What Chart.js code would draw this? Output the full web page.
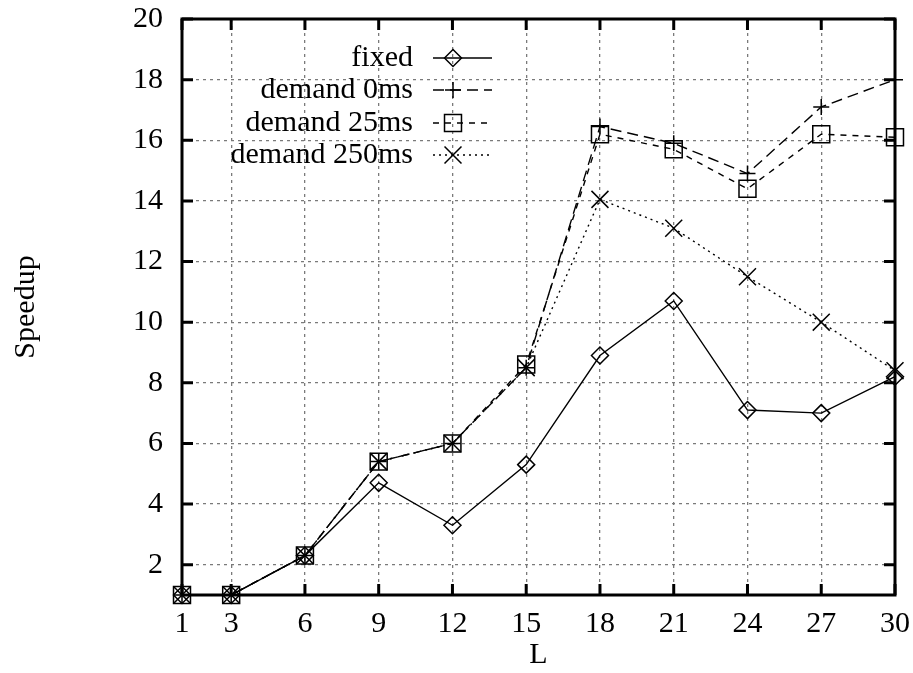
<!DOCTYPE html>
<html>
<head>
<meta charset="utf-8">
<script src="https://cdn.jsdelivr.net/npm/chart.js@4/dist/chart.umd.min.js"></script>
<style>
  html, body { margin: 0; padding: 0; background: #ffffff; }
  #wrap { width: 913px; height: 673px; position: relative; }
</style>
</head>
<body>
<div id="wrap"><canvas id="speedup_chart" width="913" height="673"></canvas></div>
<script>

let L_values = [1, 3, 6, 9, 12, 15, 18, 21, 24, 27, 30];
let y_tick_values = [2, 4, 6, 8, 10, 12, 14, 16, 18, 20];

let fixed_data = [1, 1, 2.3, 4.7, 3.3, 5.3, 8.9, 10.7, 7.1, 7.0, 8.2];
let demand_0_data = [1, 1, 2.3, 5.4, 6.0, 8.5, 16.45, 15.9, 14.9, 17.1, 18.0];
let demand_25_data = [1, 1, 2.3, 5.4, 6.0, 8.6, 16.2, 15.7, 14.4, 16.2, 16.1];
let demand_250_data = [1, 1, 2.3, 5.4, 6.0, 8.5, 14.05, 13.1, 11.5, 10.0, 8.4];

let font_family = "'Liberation Serif', 'DejaVu Serif', serif";
let font_size = 30;

function to_points(values) {
    return values.map(function(v, i) { return { x: L_values[i], y: v }; });
}

// one entry per series: label, values, marker, marker radius, dash
let series = [
    { label: 'fixed',         values: fixed_data,      style: 'rectRot',  radius: 8.5, dash: [] },
    { label: 'demand 0ms',    values: demand_0_data,   style: 'cross',    radius: 8,   dash: [11, 6] },
    { label: 'demand 25ms',   values: demand_25_data,  style: 'rect',     radius: 12,  dash: [6, 6] },
    { label: 'demand 250ms',  values: demand_250_data, style: 'crossRot', radius: 12,  dash: [2, 4] }
];


// box round the plot, inward ticks, y title and legend
let frame_plugin = {
    id: 'frame_plugin',
    afterDatasetsDraw: function(chart) {
        let ctx = chart.ctx;
        let area = chart.chartArea;
        let xs = chart.scales.x;
        let ys = chart.scales.y;

        ctx.save();
        ctx.strokeStyle = '#000000';
        ctx.setLineDash([]);
        ctx.lineWidth = 3;
        ctx.strokeRect(area.left, area.top, area.right - area.left, area.bottom - area.top);

        // ticks pointing in
        let tick_len = 11;
        ctx.lineWidth = 3;
        ctx.beginPath();
        L_values.forEach(function(v) {
            let px = xs.getPixelForValue(v);
            ctx.moveTo(px, area.bottom);
            ctx.lineTo(px, area.bottom - tick_len);
            ctx.moveTo(px, area.top);
            ctx.lineTo(px, area.top + tick_len);
        });
        y_tick_values.forEach(function(v) {
            let py = ys.getPixelForValue(v);
            ctx.moveTo(area.left, py);
            ctx.lineTo(area.left + tick_len, py);
            ctx.moveTo(area.right, py);
            ctx.lineTo(area.right - tick_len, py);
        });
        ctx.stroke();

        // y title
        ctx.fillStyle = '#000000';
        ctx.font = font_size + 'px ' + font_family;
        ctx.textAlign = 'center';
        ctx.textBaseline = 'middle';
        ctx.save();
        ctx.translate(26, (area.top + area.bottom) / 2);
        ctx.rotate(-Math.PI / 2);
        ctx.fillText('Speedup', 0, 0);
        ctx.restore();

        // legend
        let text_right = 413;
        let line_from = 433;
        let line_to = 492;
        let mark_x = 453;
        let row_y = [58, 90, 123, 155];
        series.forEach(function(s, i) {
            let y = row_y[i];
            ctx.textAlign = 'right';
            ctx.fillText(s.label, text_right, y);

            ctx.lineWidth = 1.5;
            ctx.strokeStyle = '#000000';
            ctx.setLineDash(s.dash);
            ctx.beginPath();
            ctx.moveTo(line_from, y);
            ctx.lineTo(line_to, y);
            ctx.stroke();
            ctx.setLineDash([]);

            ctx.fillStyle = 'rgba(0,0,0,0)';
            Chart.helpers.drawPoint(ctx, { pointStyle: s.style, radius: s.radius, borderWidth: 1.5, rotation: 0 }, mark_x, y);
            ctx.fillStyle = '#000000';
        });

        ctx.restore();
    }
};


let chart_data = new Chart(document.getElementById('speedup_chart'), {

    type: 'line',

    data: {
        datasets: series.map(function(s) {
            return {
                label: s.label,
                data: to_points(s.values),
                borderColor: '#000000',
                borderWidth: 1.4,
                borderDash: s.dash,
                tension: 0,
                fill: false,
                clip: false,
                pointStyle: s.style,
                pointRadius: s.radius,
                pointBorderWidth: 1.5,
                pointBorderColor: '#000000',
                pointBackgroundColor: 'rgba(0,0,0,0)'
            };
        })
    },

    options: {
        responsive: false,
        animation: false,
        maintainAspectRatio: false,

        layout: {
            padding: { top: 19, right: 18, left: 0, bottom: 0 }
        },

        plugins: {
            legend: { display: false },
            tooltip: { enabled: false }
        },

        scales: {
            x: {
                type: 'linear',
                min: 1,
                max: 30,
                afterBuildTicks: function(scale) {
                    scale.ticks = L_values.map(function(v) { return { value: v }; });
                },
                afterFit: function(scale) {
                    scale.height = 78;
                    scale.paddingLeft = 0;
                    scale.paddingRight = 0;
                },
                grid: {
                    color: '#7a7a7a',
                    lineWidth: 1.3,
                    drawTicks: false
                },
                border: { display: false, dash: [3, 4] },
                ticks: {
                    color: '#000000',
                    padding: 11,
                    maxRotation: 0,
                    autoSkip: false,
                    font: { family: font_family, size: font_size }
                },
                title: {
                    display: true,
                    text: 'L',
                    color: '#000000',
                    padding: { top: 0, bottom: 0 },
                    font: { family: font_family, size: font_size }
                }
            },

            y: {
                type: 'linear',
                min: 1,
                max: 20,
                afterBuildTicks: function(scale) {
                    scale.ticks = y_tick_values.map(function(v) { return { value: v }; });
                },
                afterFit: function(scale) {
                    scale.width = 182;
                    scale.paddingTop = 0;
                    scale.paddingBottom = 0;
                },
                grid: {
                    color: '#7a7a7a',
                    lineWidth: 1.3,
                    drawTicks: false
                },
                border: { display: false, dash: [3, 4] },
                ticks: {
                    color: '#000000',
                    padding: 19,
                    font: { family: font_family, size: font_size }
                }
            }
        }
    },

    plugins: [frame_plugin]
});

</script>
</body>
</html>
